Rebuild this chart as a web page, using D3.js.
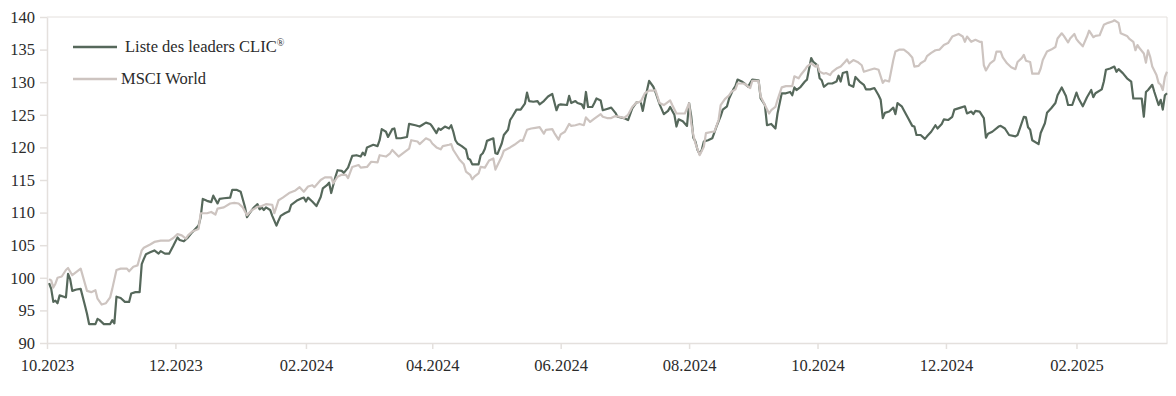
<!DOCTYPE html>
<html>
<head>
<meta charset="utf-8">
<script src="https://cdn.jsdelivr.net/npm/d3@7"></script>
<style>
  body { margin: 0; background: #fff; }
  text { font-family: "Liberation Serif", "DejaVu Serif", serif; }
</style>
</head>
<body>
<div id="chart"></div>
<script>
// series names
const seriesNames = ["Liste des leaders CLIC", "MSCI World"];

// x axis tick labels (every two months)
const tickLabels = ["10.2023", "12.2023", "02.2024", "04.2024", "06.2024", "08.2024", "10.2024", "12.2024", "02.2025"];
const yTicks = [90, 95, 100, 105, 110, 115, 120, 125, 130, 135, 140];

// Liste des leaders CLIC
const clicDates = [
  "2023-10-02","2023-10-03","2023-10-04","2023-10-05","2023-10-06","2023-10-07","2023-10-09","2023-10-10","2023-10-11","2023-10-12",
  "2023-10-13","2023-10-15","2023-10-17","2023-10-19","2023-10-20","2023-10-21","2023-10-24","2023-10-25","2023-10-26","2023-10-28",
  "2023-10-31","2023-11-01","2023-11-02","2023-11-03","2023-11-05","2023-11-07","2023-11-09","2023-11-10","2023-11-12","2023-11-14",
  "2023-11-15","2023-11-16","2023-11-17","2023-11-19","2023-11-21","2023-11-23","2023-11-24","2023-11-26","2023-11-28","2023-11-30",
  "2023-12-02","2023-12-03","2023-12-05","2023-12-07","2023-12-09","2023-12-12","2023-12-13","2023-12-14","2023-12-16","2023-12-18",
  "2023-12-19","2023-12-21","2023-12-22","2023-12-24","2023-12-27","2023-12-28","2023-12-30","2024-01-01","2024-01-03","2024-01-04",
  "2024-01-05","2024-01-07","2024-01-09","2024-01-10","2024-01-11","2024-01-12","2024-01-13","2024-01-15","2024-01-16","2024-01-18",
  "2024-01-19","2024-01-20","2024-01-22","2024-01-24","2024-01-25","2024-01-28","2024-01-30","2024-01-31","2024-02-01","2024-02-02",
  "2024-02-04","2024-02-06","2024-02-08","2024-02-09","2024-02-11","2024-02-12","2024-02-13","2024-02-15","2024-02-16","2024-02-18",
  "2024-02-19","2024-02-21","2024-02-23","2024-02-25","2024-02-27","2024-02-28","2024-02-29","2024-03-01","2024-03-04","2024-03-06",
  "2024-03-07","2024-03-08","2024-03-10","2024-03-11","2024-03-13","2024-03-14","2024-03-15","2024-03-17","2024-03-20","2024-03-21",
  "2024-03-24","2024-03-26","2024-03-27","2024-03-29","2024-03-31","2024-04-01","2024-04-03","2024-04-04","2024-04-05","2024-04-07",
  "2024-04-09","2024-04-10","2024-04-11","2024-04-12","2024-04-13","2024-04-15","2024-04-17","2024-04-18","2024-04-19","2024-04-20",
  "2024-04-21","2024-04-23","2024-04-24","2024-04-25","2024-04-26","2024-04-27","2024-04-30","2024-05-01","2024-05-02","2024-05-04",
  "2024-05-05","2024-05-07","2024-05-08","2024-05-09","2024-05-11","2024-05-13","2024-05-15","2024-05-16","2024-05-17","2024-05-19",
  "2024-05-21","2024-05-22","2024-05-24","2024-05-26","2024-05-28","2024-05-30","2024-05-31","2024-06-01","2024-06-04","2024-06-05",
  "2024-06-06","2024-06-08","2024-06-09","2024-06-11","2024-06-12","2024-06-13","2024-06-14","2024-06-16","2024-06-17","2024-06-18",
  "2024-06-20","2024-06-21","2024-06-23","2024-06-25","2024-06-27","2024-06-28","2024-07-01","2024-07-03","2024-07-05","2024-07-07",
  "2024-07-09","2024-07-10","2024-07-11","2024-07-13","2024-07-15","2024-07-16","2024-07-18","2024-07-20","2024-07-22","2024-07-23",
  "2024-07-25","2024-07-26","2024-07-27","2024-07-29","2024-07-31","2024-08-01","2024-08-02","2024-08-03","2024-08-04","2024-08-05",
  "2024-08-06","2024-08-07","2024-08-08","2024-08-10","2024-08-12","2024-08-14","2024-08-16","2024-08-17","2024-08-19","2024-08-20",
  "2024-08-22","2024-08-23","2024-08-24","2024-08-26","2024-08-27","2024-08-29","2024-08-31","2024-09-03","2024-09-04","2024-09-06",
  "2024-09-07","2024-09-09","2024-09-11","2024-09-12","2024-09-14","2024-09-16","2024-09-18","2024-09-19","2024-09-20","2024-09-21",
  "2024-09-23","2024-09-25","2024-09-26","2024-09-28","2024-09-29","2024-10-01","2024-10-02","2024-10-03","2024-10-04","2024-10-06",
  "2024-10-08","2024-10-10","2024-10-11","2024-10-12","2024-10-13","2024-10-15","2024-10-16","2024-10-18","2024-10-19","2024-10-21",
  "2024-10-23","2024-10-24","2024-10-26","2024-10-28","2024-10-30","2024-10-31","2024-11-01","2024-11-02","2024-11-04","2024-11-06",
  "2024-11-07","2024-11-08","2024-11-10","2024-11-11","2024-11-13","2024-11-15","2024-11-16","2024-11-17","2024-11-19","2024-11-21",
  "2024-11-22","2024-11-24","2024-11-26","2024-11-27","2024-11-29","2024-11-30","2024-12-02","2024-12-04","2024-12-05","2024-12-08",
  "2024-12-10","2024-12-11","2024-12-13","2024-12-14","2024-12-15","2024-12-17","2024-12-19","2024-12-20","2024-12-21","2024-12-23",
  "2024-12-26","2024-12-27","2024-12-29","2024-12-31","2025-01-03","2025-01-04","2025-01-05","2025-01-07","2025-01-08","2025-01-09",
  "2025-01-10","2025-01-11","2025-01-14","2025-01-15","2025-01-17","2025-01-18","2025-01-20","2025-01-22","2025-01-23","2025-01-25",
  "2025-01-27","2025-01-28","2025-01-30","2025-02-01","2025-02-02","2025-02-04","2025-02-06","2025-02-08","2025-02-09","2025-02-10",
  "2025-02-13","2025-02-14","2025-02-15","2025-02-17","2025-02-19","2025-02-20","2025-02-21","2025-02-23","2025-02-25","2025-02-27",
  "2025-02-28","2025-03-01","2025-03-04","2025-03-05","2025-03-06","2025-03-07","2025-03-09","2025-03-10","2025-03-12","2025-03-13",
  "2025-03-14","2025-03-15","2025-03-16"
];
const clicValues = [
  99.2, 98.3, 96.3, 96.5, 96.1, 97.3, 97.1, 97.0, 100.6, 99.8,
  98.0, 98.2, 98.3, 95.8, 94.5, 92.9, 92.9, 93.7, 93.5, 92.9,
  92.9, 93.5, 93.0, 97.1, 96.9, 96.3, 96.3, 97.6, 97.8, 97.8,
  102.1, 102.9, 103.6, 103.9, 104.2, 103.7, 104.1, 103.7, 103.7, 104.9,
  106.2, 105.8, 105.6, 106.2, 107.0, 108.0, 109.3, 112.1, 111.8, 111.6,
  112.6, 111.4, 112.1, 112.2, 112.3, 113.5, 113.5, 113.2, 110.9, 109.3,
  109.8, 110.7, 111.3, 110.5, 110.8, 110.4, 110.8, 110.4, 109.5, 108.0,
  108.8, 109.5, 109.9, 110.2, 111.2, 111.9, 112.2, 112.3, 111.7, 112.3,
  111.7, 111.0, 112.4, 113.7, 114.2, 114.6, 113.0, 115.5, 116.5, 116.4,
  116.1, 116.9, 118.7, 118.8, 118.6, 119.2, 118.8, 120.0, 120.4, 120.2,
  121.1, 122.8, 122.4, 121.6, 122.8, 122.9, 121.4, 121.4, 121.6, 123.6,
  123.4, 123.2, 123.4, 123.8, 123.6, 123.2, 122.2, 122.9, 122.7, 123.2,
  122.9, 123.4, 122.4, 121.1, 120.6, 120.2, 119.7, 118.3, 118.1, 117.4,
  117.4, 117.4, 118.8, 119.1, 119.8, 121.0, 121.4, 119.1, 119.0, 120.6,
  121.9, 122.7, 124.2, 124.7, 125.8, 125.8, 126.7, 128.4, 127.1, 127.0,
  127.1, 126.6, 127.1, 127.8, 128.2, 125.7, 126.5, 126.6, 126.5, 127.9,
  126.8, 127.1, 126.8, 126.6, 126.0, 128.5, 126.2, 126.2, 126.8, 127.5,
  127.2, 125.7, 125.9, 126.1, 125.3, 124.7, 124.5, 124.2, 126.0, 126.9,
  127.0, 125.6, 127.3, 130.2, 129.3, 128.5, 126.6, 125.1, 125.6, 126.2,
  125.0, 123.2, 124.3, 124.0, 123.3, 126.8, 124.8, 121.5, 120.9, 119.6,
  119.0, 119.6, 120.9, 121.1, 121.4, 123.2, 124.8, 125.8, 126.3, 127.5,
  128.9, 129.4, 130.4, 130.1, 129.9, 129.3, 130.4, 130.3, 127.5, 126.5,
  123.4, 123.6, 122.9, 125.2, 128.3, 128.3, 128.5, 128.0, 129.2, 128.8,
  129.3, 130.1, 130.4, 133.7, 133.1, 132.6, 130.6, 130.3, 129.3, 129.8,
  129.8, 130.1, 131.0, 130.1, 131.4, 131.6, 129.6, 129.3, 130.8, 130.1,
  129.6, 128.9, 128.9, 129.1, 128.0, 127.3, 124.5, 125.3, 125.5, 126.1,
  125.1, 126.8, 126.3, 125.7, 124.5, 123.3, 123.2, 121.9, 121.9, 121.3,
  121.7, 122.4, 123.4, 122.9, 123.6, 124.3, 124.2, 124.7, 125.8, 126.1,
  126.3, 125.2, 125.5, 125.1, 125.6, 125.5, 124.5, 121.5, 122.1, 122.4,
  123.2, 123.3, 122.9, 121.9, 121.7, 121.9, 122.8, 124.7, 124.6, 123.1,
  122.7, 121.1, 120.5, 122.2, 123.7, 125.3, 126.0, 126.8, 128.0, 129.2,
  127.9, 126.5, 126.5, 128.4, 127.5, 126.3, 127.7, 128.8, 127.7, 128.3,
  128.9, 130.1, 131.9, 132.1, 132.4, 131.6, 132.0, 131.4, 130.6, 130.1,
  127.5, 127.5, 127.5, 124.7, 128.5, 128.8, 129.6, 128.5, 126.5, 127.3,
  125.8, 128.0, 128.3
];

// MSCI World
const msciDates = [
  "2023-10-02","2023-10-03","2023-10-04","2023-10-05","2023-10-06","2023-10-08","2023-10-10","2023-10-11","2023-10-13","2023-10-15",
  "2023-10-17","2023-10-20","2023-10-22","2023-10-24","2023-10-25","2023-10-27","2023-10-29","2023-10-31","2023-11-01","2023-11-03",
  "2023-11-05","2023-11-08","2023-11-09","2023-11-11","2023-11-13","2023-11-15","2023-11-16","2023-11-19","2023-11-21","2023-11-24",
  "2023-11-26","2023-11-28","2023-11-30","2023-12-02","2023-12-04","2023-12-06","2023-12-07","2023-12-09","2023-12-12","2023-12-13",
  "2023-12-16","2023-12-18","2023-12-20","2023-12-21","2023-12-24","2023-12-27","2023-12-29","2023-12-31","2024-01-02","2024-01-04",
  "2024-01-06","2024-01-09","2024-01-11","2024-01-13","2024-01-16","2024-01-17","2024-01-19","2024-01-21","2024-01-24","2024-01-27",
  "2024-01-29","2024-01-31","2024-02-02","2024-02-04","2024-02-05","2024-02-08","2024-02-10","2024-02-13","2024-02-14","2024-02-16",
  "2024-02-18","2024-02-20","2024-02-21","2024-02-23","2024-02-26","2024-02-27","2024-03-01","2024-03-03","2024-03-06","2024-03-07",
  "2024-03-10","2024-03-12","2024-03-13","2024-03-16","2024-03-18","2024-03-21","2024-03-22","2024-03-25","2024-03-26","2024-03-28",
  "2024-03-29","2024-03-31","2024-04-01","2024-04-03","2024-04-05","2024-04-06","2024-04-09","2024-04-10","2024-04-11","2024-04-13",
  "2024-04-14","2024-04-16","2024-04-17","2024-04-19","2024-04-20","2024-04-21","2024-04-23","2024-04-24","2024-04-26","2024-04-28",
  "2024-04-30","2024-05-01","2024-05-04","2024-05-05","2024-05-08","2024-05-10","2024-05-13","2024-05-14","2024-05-16","2024-05-18",
  "2024-05-20","2024-05-22","2024-05-24","2024-05-25","2024-05-28","2024-05-29","2024-05-31","2024-06-01","2024-06-03","2024-06-05",
  "2024-06-06","2024-06-08","2024-06-10","2024-06-12","2024-06-13","2024-06-15","2024-06-17","2024-06-20","2024-06-21","2024-06-23",
  "2024-06-25","2024-06-27","2024-06-29","2024-07-01","2024-07-03","2024-07-05","2024-07-07","2024-07-09","2024-07-11","2024-07-13",
  "2024-07-15","2024-07-16","2024-07-18","2024-07-20","2024-07-23","2024-07-24","2024-07-26","2024-07-28","2024-07-30","2024-08-01",
  "2024-08-02","2024-08-03","2024-08-04","2024-08-06","2024-08-08","2024-08-09","2024-08-12","2024-08-13","2024-08-15","2024-08-16",
  "2024-08-18","2024-08-20","2024-08-21","2024-08-23","2024-08-24","2024-08-27","2024-08-28","2024-08-30","2024-08-31","2024-09-03",
  "2024-09-04","2024-09-06","2024-09-08","2024-09-09","2024-09-11","2024-09-12","2024-09-14","2024-09-16","2024-09-19","2024-09-20",
  "2024-09-22","2024-09-23","2024-09-25","2024-09-26","2024-09-28","2024-09-30","2024-10-01","2024-10-02","2024-10-04","2024-10-05",
  "2024-10-07","2024-10-08","2024-10-10","2024-10-12","2024-10-14","2024-10-15","2024-10-16","2024-10-18","2024-10-20","2024-10-22",
  "2024-10-23","2024-10-26","2024-10-28","2024-10-30","2024-11-01","2024-11-02","2024-11-04","2024-11-06","2024-11-07","2024-11-09",
  "2024-11-11","2024-11-13","2024-11-15","2024-11-16","2024-11-18","2024-11-19","2024-11-21","2024-11-22","2024-11-24","2024-11-26",
  "2024-11-28","2024-11-30","2024-12-02","2024-12-04","2024-12-07","2024-12-09","2024-12-10","2024-12-11","2024-12-13","2024-12-15",
  "2024-12-17","2024-12-18","2024-12-19","2024-12-20","2024-12-22","2024-12-24","2024-12-25","2024-12-27","2024-12-28","2024-12-30",
  "2025-01-01","2025-01-03","2025-01-04","2025-01-06","2025-01-07","2025-01-08","2025-01-10","2025-01-11","2025-01-14","2025-01-15",
  "2025-01-16","2025-01-18","2025-01-20","2025-01-22","2025-01-23","2025-01-25","2025-01-26","2025-01-28","2025-01-29","2025-01-31",
  "2025-02-01","2025-02-02","2025-02-04","2025-02-06","2025-02-07","2025-02-09","2025-02-10","2025-02-12","2025-02-14","2025-02-16",
  "2025-02-18","2025-02-19","2025-02-21","2025-02-22","2025-02-25","2025-02-26","2025-02-28","2025-03-01","2025-03-02","2025-03-03",
  "2025-03-05","2025-03-06","2025-03-07","2025-03-08","2025-03-09","2025-03-11","2025-03-12","2025-03-13","2025-03-14","2025-03-15",
  "2025-03-16"
];
const msciValues = [
  99.8, 99.6, 98.5, 99.1, 100.0, 100.2, 101.2, 101.5, 100.4, 100.9,
  101.4, 98.0, 97.8, 98.1, 96.8, 95.9, 96.1, 97.0, 98.3, 101.2,
  101.4, 101.4, 101.0, 101.7, 101.9, 104.2, 104.6, 105.1, 105.5, 105.7,
  105.7, 105.7, 106.1, 106.7, 106.5, 106.0, 106.5, 107.1, 107.5, 109.9,
  109.9, 110.1, 109.7, 110.6, 110.8, 111.4, 111.5, 111.4, 110.8, 109.6,
  110.3, 110.9, 111.0, 111.3, 111.2, 109.9, 111.9, 112.3, 113.0, 113.4,
  113.9, 113.2, 114.0, 114.2, 113.9, 115.0, 115.4, 115.4, 114.5, 115.5,
  115.8, 115.8, 115.3, 117.0, 117.3, 116.9, 117.0, 117.8, 117.7, 118.8,
  118.6, 119.1, 119.6, 118.6, 119.1, 119.8, 121.1, 120.9, 120.5, 121.1,
  121.4, 121.1, 120.6, 120.0, 119.7, 120.2, 120.4, 120.5, 119.6, 118.6,
  118.1, 117.4, 116.3, 115.8, 115.1, 115.5, 116.0, 117.0, 116.9, 118.0,
  118.3, 116.6, 118.6, 119.5, 120.0, 120.4, 121.1, 121.0, 122.7, 122.9,
  123.0, 123.1, 122.1, 122.7, 122.8, 122.2, 121.2, 122.0, 122.4, 123.6,
  123.3, 123.4, 123.6, 123.4, 124.6, 123.9, 124.4, 125.1, 124.7, 124.5,
  124.5, 124.8, 124.7, 124.5, 125.0, 126.2, 126.9, 127.0, 128.3, 128.7,
  128.7, 128.8, 126.8, 126.5, 127.2, 126.5, 125.2, 125.2, 125.2, 126.8,
  123.7, 121.9, 120.6, 118.8, 120.1, 122.2, 122.4, 122.4, 124.2, 126.5,
  127.4, 128.0, 128.5, 128.9, 129.8, 129.8, 129.6, 129.1, 130.2, 130.2,
  127.8, 126.5, 125.2, 125.7, 126.2, 127.3, 129.2, 129.4, 129.4, 130.9,
  130.6, 131.1, 131.9, 132.4, 132.9, 132.4, 132.6, 131.6, 131.3, 131.4,
  131.1, 131.6, 132.1, 132.4, 133.1, 133.5, 132.9, 133.4, 133.1, 132.6,
  131.6, 131.9, 132.1, 131.9, 129.9, 130.3, 130.1, 133.4, 134.7, 135.0,
  135.0, 134.5, 133.8, 132.4, 132.5, 132.9, 133.3, 134.0, 134.5, 134.9,
  135.0, 135.7, 136.0, 137.0, 137.4, 137.0, 136.2, 137.0, 136.2, 136.5,
  136.2, 136.2, 132.6, 131.8, 132.9, 133.4, 134.7, 134.7, 133.8, 132.9,
  132.3, 132.0, 133.1, 133.7, 134.2, 133.3, 133.1, 131.3, 131.3, 132.1,
  133.4, 134.7, 135.0, 135.4, 136.7, 137.5, 137.1, 136.1, 136.7, 137.4,
  136.6, 136.2, 135.5, 137.0, 137.9, 136.9, 137.1, 137.2, 138.8, 139.1,
  139.3, 139.5, 139.1, 137.5, 137.1, 136.7, 136.2, 134.9, 135.7, 135.2,
  134.4, 133.0, 134.9, 133.9, 132.4, 131.1, 129.9, 129.6, 128.8, 130.8,
  131.6
];

const margin = { top: 17, right: 9, bottom: 53, left: 47 };
const width = 1176 - margin.left - margin.right;
const height = 396 - margin.top - margin.bottom;

const colorClic = "#56685b";
const colorMsci = "#cdc4c0";
const gridColor = "#e4e0dd";
const textColor = "#2b2b2b";

const parseDate = d3.timeParse("%Y-%m-%d");
const parseTick = d3.timeParse("%m.%Y");

const clicData = clicDates.map((d, i) => ({ date: parseDate(d), value: clicValues[i] }));
const msciData = msciDates.map((d, i) => ({ date: parseDate(d), value: msciValues[i] }));

const svg = d3
  .select("#chart")
  .append("svg")
  .attr("width", width + margin.left + margin.right)
  .attr("height", height + margin.top + margin.bottom)
  .append("g")
  .attr("transform", `translate(${margin.left},${margin.top})`);

const x = d3.scaleTime()
  .domain([new Date(2023, 9, 1), new Date(2025, 2, 16)])
  .range([0, width]);

const y = d3.scaleLinear().domain([90, 140]).range([height, 0]);

// frame: top and right edges
svg.append("line")
  .attr("x1", 0).attr("x2", width)
  .attr("y1", 0).attr("y2", 0)
  .attr("stroke", gridColor);
svg.append("line")
  .attr("x1", width).attr("x2", width)
  .attr("y1", 0).attr("y2", height)
  .attr("stroke", gridColor);

// X axis
const xAxis = svg.append("g")
  .attr("transform", `translate(0, ${height})`)
  .call(d3.axisBottom(x)
    .tickValues(tickLabels.map(parseTick))
    .tickFormat((d, i) => tickLabels[i])
    .tickSize(6)
    .tickSizeOuter(0)
    .tickPadding(10));

// Y axis
const yAxis = svg.append("g")
  .call(d3.axisLeft(y)
    .tickValues(yTicks)
    .tickSize(7)
    .tickSizeOuter(0)
    .tickPadding(5));

[xAxis, yAxis].forEach((g) => {
  g.select(".domain").attr("stroke", gridColor).attr("stroke-width", 1.5);
  g.selectAll(".tick line").attr("stroke", gridColor).attr("stroke-width", 1.5);
  g.selectAll(".tick text")
    .style("font-family", "'Liberation Serif', serif")
    .style("font-size", "16.5px")
    .attr("fill", textColor);
});

// Lines
const line = d3.line()
  .x((d) => x(d.date))
  .y((d) => y(d.value));

svg.append("path")
  .datum(clicData)
  .attr("fill", "none")
  .attr("stroke", colorClic)
  .attr("stroke-width", 2.2)
  .attr("stroke-linejoin", "round")
  .attr("d", line);

svg.append("path")
  .datum(msciData)
  .attr("fill", "none")
  .attr("stroke", colorMsci)
  .attr("stroke-width", 2.2)
  .attr("stroke-linejoin", "round")
  .attr("d", line);

// Legend
const legend = svg.append("g").attr("class", "legend");
const legendItems = [
  { name: seriesNames[0], color: colorClic, y: 30, tx: 78 },
  { name: seriesNames[1], color: colorMsci, y: 62, tx: 74 }
];

legendItems.forEach((item, i) => {
  legend.append("line")
    .attr("x1", 26).attr("x2", 70)
    .attr("y1", item.y).attr("y2", item.y)
    .attr("stroke", item.color)
    .attr("stroke-width", 2.5);

  const t = legend.append("text")
    .attr("x", item.tx)
    .attr("y", item.y + 5)
    .style("font-size", "16.5px")
    .attr("fill", textColor)
    .text(item.name);

  if (i === 0) {
    t.append("tspan")
      .attr("dy", -6)
      .style("font-size", "10px")
      .text("®");
  }
});
</script>
</body>
</html>
